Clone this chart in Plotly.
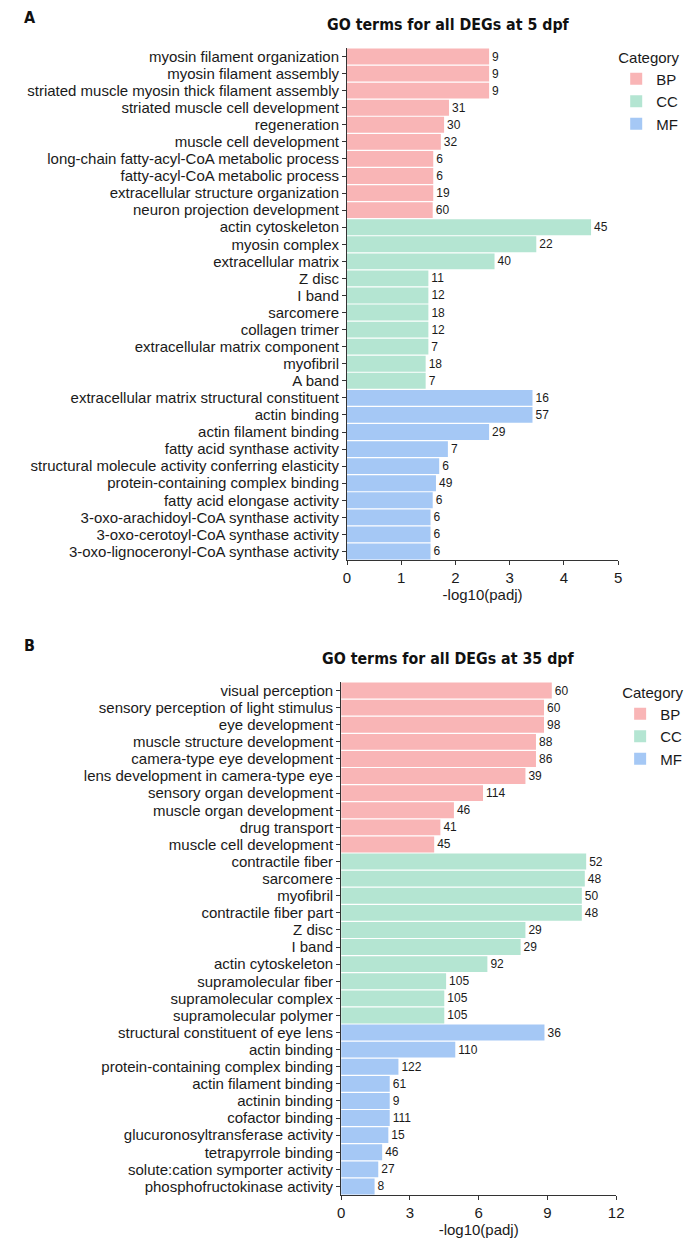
import plotly.graph_objects as go

# Панель A: 5 dpf
terms_a = ['myosin filament organization', 'myosin filament assembly',
           'striated muscle myosin thick filament assembly', 'striated muscle cell development',
           'regeneration', 'muscle cell development', 'long-chain fatty-acyl-CoA metabolic process',
           'fatty-acyl-CoA metabolic process', 'extracellular structure organization',
           'neuron projection development',
           'actin cytoskeleton', 'myosin complex', 'extracellular matrix', 'Z disc', 'I band',
           'sarcomere', 'collagen trimer', 'extracellular matrix component', 'myofibril', 'A band',
           'extracellular matrix structural constituent', 'actin binding', 'actin filament binding',
           'fatty acid synthase activity', 'structural molecule activity conferring elasticity',
           'protein-containing complex binding', 'fatty acid elongase activity',
           '3-oxo-arachidoyl-CoA synthase activity', '3-oxo-cerotoyl-CoA synthase activity',
           '3-oxo-lignoceronyl-CoA synthase activity']
padj_a = [2.62, 2.62, 2.62, 1.88, 1.79, 1.73, 1.59, 1.59, 1.59, 1.58,
          4.50, 3.49, 2.72, 1.50, 1.50, 1.50, 1.50, 1.50, 1.45, 1.45,
          3.42, 3.42, 2.62, 1.86, 1.70, 1.64, 1.58, 1.54, 1.54, 1.54]
genes_a = [9, 9, 9, 31, 30, 32, 6, 6, 19, 60,
           45, 22, 40, 11, 12, 18, 12, 7, 18, 7,
           16, 57, 29, 7, 6, 49, 6, 6, 6, 6]
cat_a = ['BP'] * 10 + ['CC'] * 10 + ['MF'] * 10

# Панель B: 35 dpf
terms_b = ['visual perception', 'sensory perception of light stimulus', 'eye development',
           'muscle structure development', 'camera-type eye development',
           'lens development in camera-type eye', 'sensory organ development',
           'muscle organ development', 'drug transport', 'muscle cell development',
           'contractile fiber', 'sarcomere', 'myofibril', 'contractile fiber part', 'Z disc',
           'I band', 'actin cytoskeleton', 'supramolecular fiber', 'supramolecular complex',
           'supramolecular polymer',
           'structural constituent of eye lens', 'actin binding', 'protein-containing complex binding',
           'actin filament binding', 'actinin binding', 'cofactor binding',
           'glucuronosyltransferase activity', 'tetrapyrrole binding',
           'solute:cation symporter activity', 'phosphofructokinase activity']
padj_b = [9.19, 8.85, 8.85, 8.50, 8.50, 8.04, 6.19, 4.92, 4.33, 4.06,
          10.69, 10.63, 10.50, 10.50, 8.04, 7.83, 6.38, 4.58, 4.50, 4.50,
          8.87, 4.98, 2.50, 2.12, 2.12, 2.12, 2.06, 1.79, 1.62, 1.46]
genes_b = [60, 60, 98, 88, 86, 39, 114, 46, 41, 45,
           52, 48, 50, 48, 29, 29, 92, 105, 105, 105,
           36, 110, 122, 61, 9, 111, 15, 46, 27, 8]
cat_b = ['BP'] * 10 + ['CC'] * 10 + ['MF'] * 10

categories = ['BP', 'CC', 'MF']
colors = {'BP': '#F9B5B6', 'CC': '#B4E5D2', 'MF': '#A5C8F5'}

# страница имеет отступ 8px, поэтому фигура чуть меньше окна
OFF = 8
W, H = 700 - 2 * OFF, 1256 - 2 * OFF
FONT = 'Liberation Sans, Arial, sans-serif'
TITLE_FONT = 'DejaVu Sans Condensed, DejaVu Sans, sans-serif'
INK = '#1a1a1a'


def fx(px):
    return (px - OFF) / W


def fy(py):
    return 1 - (py - OFF) / H


fig = go.Figure()

panels = [(terms_a, padj_a, genes_a, cat_a, 'x', 'y', 'legend'),
          (terms_b, padj_b, genes_b, cat_b, 'x2', 'y2', 'legend2')]

for terms, vals, genes, cats, xa, ya, lg in panels:
    for c in categories:
        idx = [i for i, k in enumerate(cats) if k == c]
        fig.add_trace(go.Bar(
            y=[terms[i] for i in idx],
            x=[vals[i] for i in idx],
            text=[str(genes[i]) for i in idx],
            orientation='h',
            name=c,
            marker=dict(color=colors[c], line=dict(width=0)),
            textposition='outside',
            textfont=dict(family=FONT, size=12, color=INK),
            cliponaxis=False,
            xaxis=xa, yaxis=ya,
            legend=lg,
            showlegend=True))

axis_common = dict(showline=True, linecolor='#333333', linewidth=1,
                   ticks='outside', ticklen=4, tickcolor='#333333',
                   showgrid=False, zeroline=False,
                   tickfont=dict(family=FONT, size=15, color=INK))

legend_common = dict(title=dict(text='Category', font=dict(size=15)),
                     xanchor='left', yanchor='top', font=dict(size=15),
                     tracegroupgap=0, bgcolor='rgba(0,0,0,0)')

fig.update_layout(
    width=W, height=H,
    margin=dict(l=0, r=0, t=0, b=0),
    plot_bgcolor='white', paper_bgcolor='white',
    barmode='overlay', bargap=0.07,
    font=dict(family=FONT, size=15, color=INK),
    xaxis=dict(domain=[fx(349), fx(625)], range=[0, 5], dtick=1, anchor='y',
               title=dict(text='-log10(padj)', font=dict(size=15), standoff=2), **axis_common),
    yaxis=dict(domain=[fy(560), fy(48)], anchor='x', categoryorder='array',
               categoryarray=terms_a, tickmode='array', tickvals=terms_a,
               autorange='reversed', **axis_common),
    xaxis2=dict(domain=[fx(343), fx(623)], range=[0, 12], dtick=3, anchor='y2',
                title=dict(text='-log10(padj)', font=dict(size=15), standoff=4), **axis_common),
    yaxis2=dict(domain=[fy(1195), fy(682)], anchor='x2', categoryorder='array',
                categoryarray=terms_b, tickmode='array', tickvals=terms_b,
                autorange='reversed', **axis_common),
    legend=dict(x=fx(623), y=fy(43), **legend_common),
    legend2=dict(x=fx(627), y=fy(678), **legend_common),
    annotations=[
        dict(text='<b>A</b>', x=fx(18), y=fy(18), xref='paper', yref='paper',
             xanchor='left', yanchor='middle', showarrow=False,
             font=dict(family=TITLE_FONT, size=16, color='#111111')),
        dict(text='<b>GO terms for all DEGs at 5 dpf</b>', x=fx(452), y=fy(25),
             xref='paper', yref='paper', xanchor='center', yanchor='middle', showarrow=False,
             font=dict(family=TITLE_FONT, size=15.8, color='#111111')),
        dict(text='<b>B</b>', x=fx(18), y=fy(645), xref='paper', yref='paper',
             xanchor='left', yanchor='middle', showarrow=False,
             font=dict(family=TITLE_FONT, size=16, color='#111111')),
        dict(text='<b>GO terms for all DEGs at 35 dpf</b>', x=fx(452), y=fy(658),
             xref='paper', yref='paper', xanchor='center', yanchor='middle', showarrow=False,
             font=dict(family=TITLE_FONT, size=15.8, color='#111111')),
    ])

fig.write_html("out.html")
